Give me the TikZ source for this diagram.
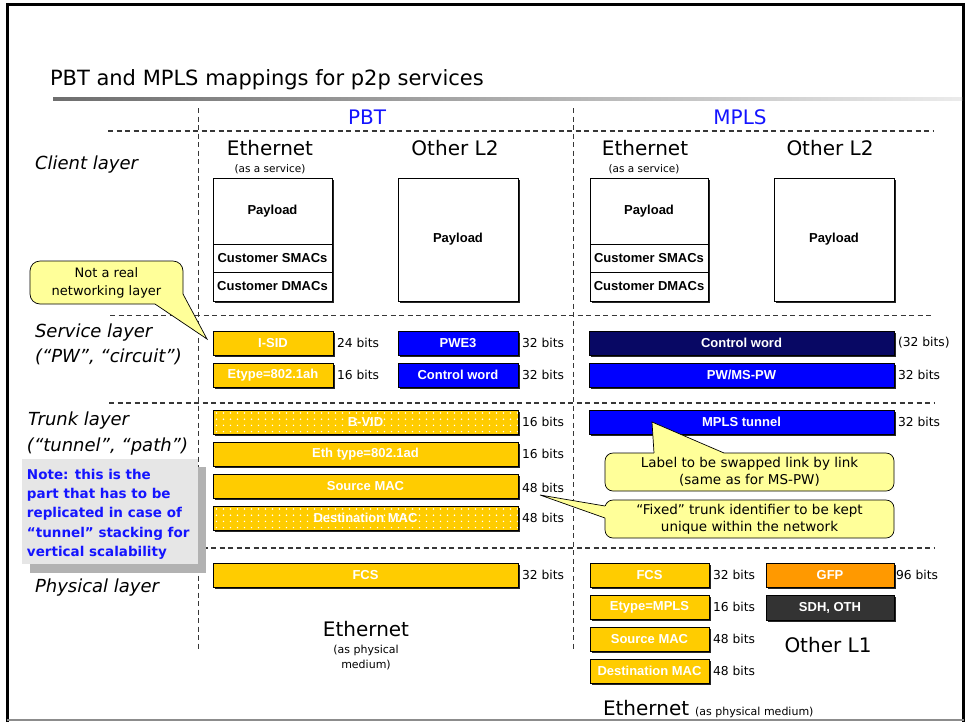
\documentclass[tikz,border=0pt]{standalone}
\usepackage{fontspec}
\setmainfont{DejaVu Sans}
\newfontfamily\arialfam{Liberation Sans}
\usetikzlibrary{shadows,calc}

\definecolor{pbtyellow}{RGB}{255,204,0}
\definecolor{mplsblue}{RGB}{0,0,255}
\definecolor{cwnavy}{RGB}{8,8,100}
\definecolor{gfporange}{RGB}{255,153,0}
\definecolor{sdhgray}{RGB}{51,51,51}
\definecolor{calloutfill}{RGB}{255,255,153}
\definecolor{headblue}{RGB}{20,20,255}
\definecolor{notegray}{RGB}{230,230,230}
\definecolor{noteshadow}{RGB}{178,178,178}
\definecolor{dashgray}{RGB}{55,55,55}
\definecolor{dotwhite}{RGB}{255,255,255}

\newcommand\boxfont{\arialfam\bfseries\fontsize{13}{15}\selectfont}
\newcommand\bitsfont{\fontsize{12.3}{14}\selectfont}
\newcommand\layerfont{\itshape\fontsize{18}{22}\selectfont}
\newcommand\bigfont{\fontsize{20}{24}\selectfont}
\newcommand\smallfont{\fontsize{10.5}{13}\selectfont}
\newcommand\physfont{\fontsize{11}{15}\selectfont}
\newcommand\calloutfont{\fontsize{13.5}{17}\selectfont}
\newcommand\notefont{\bfseries\fontsize{13.5}{19.3}\selectfont}

\begin{document}
\begin{tikzpicture}[x=1pt,y=-1pt,
  every node/.style={inner sep=0pt, outer sep=0pt},
  fieldbox/.style={draw=black, line width=0.7pt, anchor=north west,
    font=\boxfont, text=white,
    drop shadow={shadow xshift=1.8pt, shadow yshift=-1.8pt, fill=black!85, opacity=1}},
  ybox/.style={fieldbox, fill=pbtyellow},
  % yellow field with a grid of light dots
  dotbox/.style={ybox, path picture={
      \foreach \i in {0,...,43}{
        \foreach \j in {0,...,3}{
          \fill[dotwhite] ($(path picture bounding box.north west)+(\i*7+3.5,\j*6.2+3)$) circle (0.8);
        }
      }
    }},
  bbox/.style={fieldbox, fill=mplsblue},
  nbox/.style={fieldbox, fill=cwnavy},
  obox/.style={fieldbox, fill=gfporange},
  dbox/.style={fieldbox, fill=sdhgray},
  wbox/.style={fieldbox, fill=white, text=black},
  bits/.style={anchor=west, font=\bitsfont},
  layer/.style={anchor=base west, font=\layerfont},
  big/.style={anchor=base, font=\bigfont},
  grid/.style={draw=dashgray, line width=1.2pt, dash pattern=on 5pt off 3.5pt},
  callout/.style={draw=black, line width=0.7pt, fill=calloutfill, align=center, font=\calloutfont},
  pointer/.style={draw=black, line width=0.7pt, line join=miter},
]
\useasboundingbox (0,0) rectangle (966,721);

% slide frame
\draw[line width=3pt] (7,722) -- (7,4.5) -- (963.5,4.5) -- (963.5,722);
\draw[line width=2pt, black!45] (7,720) -- (963.5,720);

% title and rule
\node[anchor=base west, font=\fontsize{21}{25}\selectfont] (title) at (50,85) {PBT and MPLS mappings for p2p services};
\shade[left color={rgb,255:red,110;green,110;blue,110}, right color={rgb,255:red,235;green,235;blue,235}] (53,97) rectangle (962,100);

% dashed grid
\draw[grid] (198.5,108) -- (198.5,651);
\draw[grid] (573.5,108) -- (573.5,651);
\draw[grid] (108,131) -- (934,131);
\draw[grid] (110,315.5) -- (934,315.5);
\draw[grid] (109,403) -- (934,403);
\draw[grid] (109,548) -- (934,548);

% column headers
\node[anchor=base, font=\fontsize{20}{24}\selectfont, text=headblue] (hpbt) at (367,124) {PBT};
\node[anchor=base, font=\fontsize{20}{24}\selectfont, text=headblue] (hmpls) at (740,124) {MPLS};

% layer names
\node[layer] (lclient) at (35,169) {Client layer};
\node[layer] (lservice) at (35,337) {Service layer};
\node[layer] (lservice2) at (35,362) {(“PW”, “circuit”)};
\node[layer] (ltrunk) at (28,425) {Trunk layer};
\node[layer] (ltrunk2) at (27,451) {(“tunnel”, “path”)};
\node[layer] (lphys) at (35,592) {Physical layer};

% client layer
\node[big] (eth1) at (270,155) {Ethernet};
\node[anchor=base, font=\smallfont] (svc1) at (270,172) {(as a service)};
\node[big] (oth1) at (455,155) {Other L2};
\node[big] (eth2) at (645,155) {Ethernet};
\node[anchor=base, font=\smallfont] (svc2) at (644,172) {(as a service)};
\node[big] (oth2) at (830,155) {Other L2};

\node[wbox, minimum width=119, minimum height=66] (pay1) at (213,178) {Payload};
\node[wbox, minimum width=119, minimum height=28] (csmac1) at (213,244) {Customer SMACs};
\node[wbox, minimum width=119, minimum height=29] (cdmac1) at (213,272) {Customer DMACs};
\node[wbox, minimum width=120, minimum height=123] (pay2) at (398,178) {Payload};
\node[wbox, minimum width=118, minimum height=66] (pay3) at (590,178) {Payload};
\node[wbox, minimum width=118, minimum height=28] (csmac2) at (590,244) {Customer SMACs};
\node[wbox, minimum width=118, minimum height=29] (cdmac2) at (590,272) {Customer DMACs};
\node[wbox, minimum width=120, minimum height=123] (pay4) at (774,178) {Payload};

% service layer
\node[ybox, minimum width=120, minimum height=24] (isid) at (213,331) {I-SID};
\node[ybox, minimum width=120, minimum height=24] (etype1) at (213,363) {Etype=802.1ah};
\node[bbox, minimum width=120, minimum height=24] (pwe3) at (398,331) {PWE3};
\node[bbox, minimum width=120, minimum height=24] (cw1) at (398,363) {Control word};
\node[nbox, minimum width=305, minimum height=24] (cw2) at (589,331) {Control word};
\node[bbox, minimum width=305, minimum height=24] (pw) at (589,363) {PW/MS-PW};

\node[bits] (b1) at ($(isid.east)+(4,0)$) {24 bits};
\node[bits] (b2) at ($(etype1.east)+(4,0)$) {16 bits};
\node[bits] (b3) at ($(pwe3.east)+(4,0)$) {32 bits};
\node[bits] (b4) at ($(cw1.east)+(4,0)$) {32 bits};
\node[bits] (b5) at ($(cw2.east)+(4,0)$) {(32 bits)};
\node[bits] (b6) at ($(pw.east)+(4,0)$) {32 bits};

% trunk layer
\node[dotbox, minimum width=305, minimum height=24] (bvid) at (213,410) {B-VID};
\node[ybox, minimum width=305, minimum height=24] (ethtype) at (213,442) {Eth type=802.1ad};
\node[ybox, minimum width=305, minimum height=24] (smac1) at (213,474) {Source MAC};
\node[dotbox, minimum width=305, minimum height=24] (dmac1) at (213,506) {Destination MAC};
\node[bbox, minimum width=305, minimum height=24] (tunnel) at (589,410) {MPLS tunnel};

\node[bits] (b7) at ($(bvid.east)+(4,0)$) {16 bits};
\node[bits] (b8) at ($(ethtype.east)+(4,0)$) {16 bits};
\node[bits] (b9) at ($(smac1.east)+(4,1.5)$) {48 bits};
\node[bits] (b10) at ($(dmac1.east)+(4,0)$) {48 bits};
\node[bits] (b11) at ($(tunnel.east)+(4,0)$) {32 bits};

% physical layer
\node[ybox, minimum width=305, minimum height=24] (fcs1) at (213,563) {FCS};
\node[ybox, minimum width=119, minimum height=24] (fcs2) at (590,563) {FCS};
\node[ybox, minimum width=119, minimum height=24] (etype2) at (590,595) {Etype=MPLS};
\node[ybox, minimum width=119, minimum height=24] (smac2) at (590,627) {Source MAC};
\node[ybox, minimum width=119, minimum height=24] (dmac2) at (590,659) {Destination MAC};
\node[obox, minimum width=128, minimum height=24] (gfp) at (766,563) {GFP};
\node[dbox, minimum width=128, minimum height=25] (sdh) at (766,595) {SDH, OTH};

\node[bits] (b12) at ($(fcs1.east)+(4,0)$) {32 bits};
\node[bits] (b13) at ($(fcs2.east)+(4,0)$) {32 bits};
\node[bits] (b14) at ($(etype2.east)+(4,0)$) {16 bits};
\node[bits] (b15) at ($(smac2.east)+(4,0)$) {48 bits};
\node[bits] (b16) at ($(dmac2.east)+(4,0)$) {48 bits};
\node[bits] (b17) at ($(gfp.east)+(2,0)$) {96 bits};

\node[big] (ethphys1) at (366,636) {Ethernet};
\node[anchor=base, font=\physfont] (asphys1) at (366,653) {(as physical};
\node[anchor=base, font=\physfont] (asphys2) at (366,668) {medium)};
\node[big] (otherl1) at (828,652) {Other L1};
\node[big, anchor=base west] (ethphys2) at (603,715) {Ethernet};
\node[anchor=base west, font=\physfont] (asphys3) at ($(ethphys2.base east)+(6,0)$) {(as physical medium)};

% note on the replicated part
\fill[noteshadow] (30,467) rectangle (206,573);
\node[fill=notegray, minimum width=176, minimum height=105, anchor=north west] (note) at (22,459) {};
\node[anchor=north west, align=left, text=headblue, font=\notefont] (notetext) at (27,469) {Note: this is the\\part that has to be\\replicated in case of\\“tunnel” stacking for\\vertical scalability};

% callout: not a real layer
\node[callout, minimum width=153, minimum height=43, rounded corners=10pt, font=\fontsize{13}{18}\selectfont] (c1) at (106.5,282.5) {Not a real\\networking layer};
\coordinate (c1tip) at (207,339);
\fill[calloutfill] ($(c1.south east)+(-28,-3)$) -- ($(c1.south east)+(-28,0)$) -- (c1tip) -- ($(c1.south east)+(0,-10)$) -- ($(c1.south east)+(-3,-10)$) -- cycle;
\draw[pointer] ($(c1.south east)+(-28,0)$) -- (c1tip) -- ($(c1.south east)+(0,-10)$);

% callout: label swapping
\node[callout, minimum width=289, minimum height=38, rounded corners=8pt] (c2) at (749.5,472) {Label to be swapped link by link\\(same as for MS-PW)};
\coordinate (c2tip) at (652,422);
\fill[calloutfill] ($(c2.north west)+(49,3)$) -- ($(c2.north west)+(49,0)$) -- (c2tip) -- ($(c2.north west)+(119,0)$) -- ($(c2.north west)+(119,3)$) -- cycle;
\draw[pointer] ($(c2.north west)+(49,0)$) -- (c2tip) -- ($(c2.north west)+(119,0)$);

% callout: fixed trunk identifier
\node[callout, minimum width=289, minimum height=38, rounded corners=8pt] (c3) at (749.5,519) {“Fixed” trunk identifier to be kept\\unique within the network};
\coordinate (c3tip) at (540,495);
\fill[calloutfill] ($(c3.west)+(3,-13)$) -- ($(c3.west)+(0,-13)$) -- (c3tip) -- ($(c3.west)+(0,-1)$) -- ($(c3.west)+(3,-1)$) -- cycle;
\draw[pointer] ($(c3.west)+(0,-13)$) -- (c3tip) -- ($(c3.west)+(0,-1)$);
\end{tikzpicture}
\end{document}
